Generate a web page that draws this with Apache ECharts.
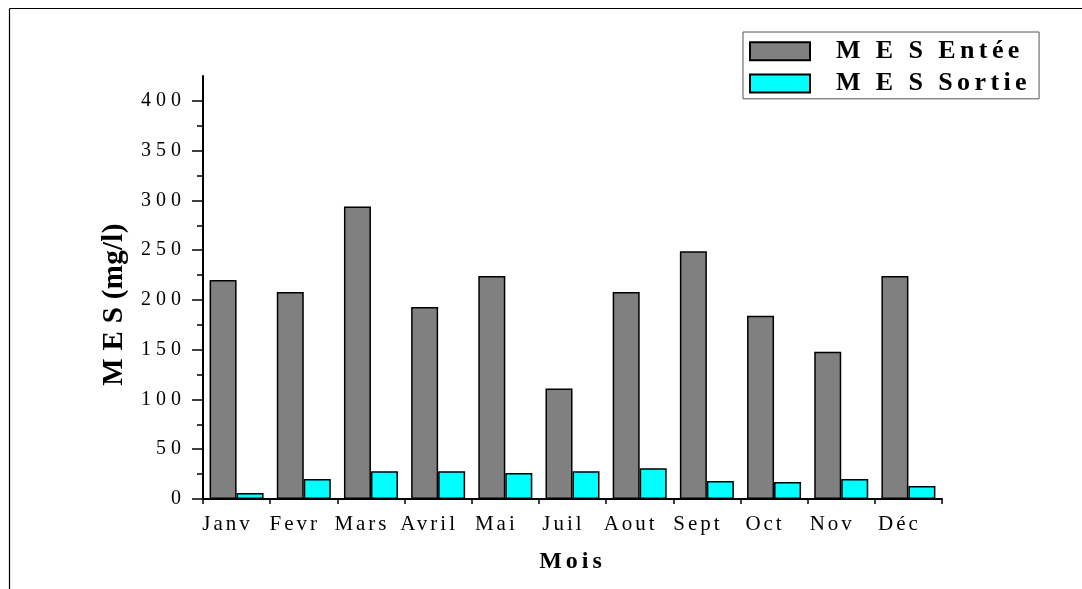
<!DOCTYPE html>
<html>
<head>
<meta charset="utf-8">
<script src="https://cdn.jsdelivr.net/npm/echarts@6/dist/echarts.min.js"></script>
<style>
html,body{margin:0;padding:0;background:#fff;}
#chart{width:1082px;height:589px;}
</style>
</head>
<body>
<div id="chart"></div>
<script>
// ---- data ----
const categories = ['Janv', 'Fevr', 'Mars', 'Avril', 'Mai', 'Juil', 'Aout', 'Sept', 'Oct', 'Nov', 'Déc'];
const mesEntree = [220, 208, 294, 193, 224, 111, 208, 249, 184, 148, 224];
const mesSortie = [6, 20, 28, 28, 26, 28, 31, 18, 17, 20, 13];
const majorTicks = [0, 50, 100, 150, 200, 250, 300, 350, 400];
const minorTicks = [25, 75, 125, 175, 225, 275, 325, 375];
const seriesNames = ['M E S Entée', 'M E S Sortie'];
const yTitle = 'M E S (mg/l)';
const xTitle = 'Mois';

// letter spacing (style) keyed by font pixel size
const SPACING = { '20': 5, '21': 3, '29': 0.3, '24': 4, '26': 4.4 };
(function () {
  const P = CanvasRenderingContext2D.prototype;
  if (!('letterSpacing' in P)) return;
  function sp(font) {
    const m = /(\d+(?:\.\d+)?)px/.exec(font || '');
    const s = m ? SPACING[m[1]] : 0;
    return (s || 0) + 'px';
  }
  ['fillText', 'strokeText', 'measureText'].forEach(function (fn) {
    const orig = P[fn];
    P[fn] = function () { this.letterSpacing = sp(this.font); return orig.apply(this, arguments); };
  });
})();

const FONT = 'Liberation Serif';
const chart = echarts.init(document.getElementById('chart'), null, { renderer: 'canvas' });
chart.setOption({
  animation: false,
  backgroundColor: '#ffffff',
  grid: { left: 203, right: 140, top: 76, bottom: 90 },
  legend: {
    orient: 'vertical',
    left: 743, top: 32,
    padding: [4, 8, 0, 6],
    itemGap: 2,
    itemWidth: 60, itemHeight: 18,
    icon: 'rect',
    borderColor: '#555', borderWidth: 1,
    textStyle: { fontFamily: FONT, fontWeight: 'bold', fontSize: 26, color: '#000', padding: [0, 0, 0, 21] },
    data: seriesNames
  },
  xAxis: [{
    type: 'category', position: 'bottom', data: categories,
    axisLine: { lineStyle: { color: '#000', width: 2 } },
    axisTick: { alignWithLabel: true, interval: 0, length: 9, lineStyle: { color: '#000', width: 1.5 } },
    axisLabel: { interval: 0, fontFamily: FONT, fontSize: 21, color: '#000', margin: 13, padding: [0, 18, 0, 0] },
    name: xTitle, nameLocation: 'middle', nameGap: 49,
    nameTextStyle: { fontFamily: FONT, fontWeight: 'bold', fontSize: 24, color: '#000' },
    splitLine: { show: false }
  }, {
    type: 'category', position: 'bottom', data: categories,
    axisLine: { show: false },
    axisTick: { show: true, interval: 0, length: 5, lineStyle: { color: '#000', width: 1.5 } },
    axisLabel: { show: false },
    splitLine: { show: false }
  }],
  yAxis: [{
    type: 'value', position: 'left', min: 0, max: 425,
    axisLine: { show: true, lineStyle: { color: '#000', width: 2 } },
    axisTick: { show: true, length: 11, customValues: majorTicks, lineStyle: { color: '#000', width: 1.5 } },
    axisLabel: { customValues: majorTicks, fontFamily: FONT, fontSize: 20, color: '#000', margin: 17 },
    splitLine: { show: false },
    name: yTitle, nameLocation: 'middle', nameGap: 74,
    nameTextStyle: { fontFamily: FONT, fontWeight: 'bold', fontSize: 29, color: '#000', padding: [0, 34, 0, 0] }
  }, {
    type: 'value', position: 'left', min: 0, max: 425,
    axisLine: { show: false },
    axisTick: { show: true, length: 6, customValues: minorTicks, lineStyle: { color: '#000', width: 1.5 } },
    axisLabel: { show: false },
    splitLine: { show: false }
  }],
  series: [{
    name: seriesNames[0], type: 'bar', data: mesEntree,
    barWidth: 27, barGap: '0%',
    itemStyle: { color: '#808080', borderColor: '#000', borderWidth: 1.5 }
  }, {
    name: seriesNames[1], type: 'bar', data: mesSortie,
    barWidth: 27, barGap: '0%',
    itemStyle: { color: '#00ffff', borderColor: '#000', borderWidth: 1.5 }
  }],
  graphic: [
    { type: 'line', shape: { x1: 9.5, y1: 8.5, x2: 1082, y2: 8.5 }, style: { stroke: '#000', lineWidth: 1.2 } },
    { type: 'line', shape: { x1: 9.5, y1: 8.5, x2: 9.5, y2: 589 }, style: { stroke: '#000', lineWidth: 1.2 } }
  ]
});
</script>
</body>
</html>
